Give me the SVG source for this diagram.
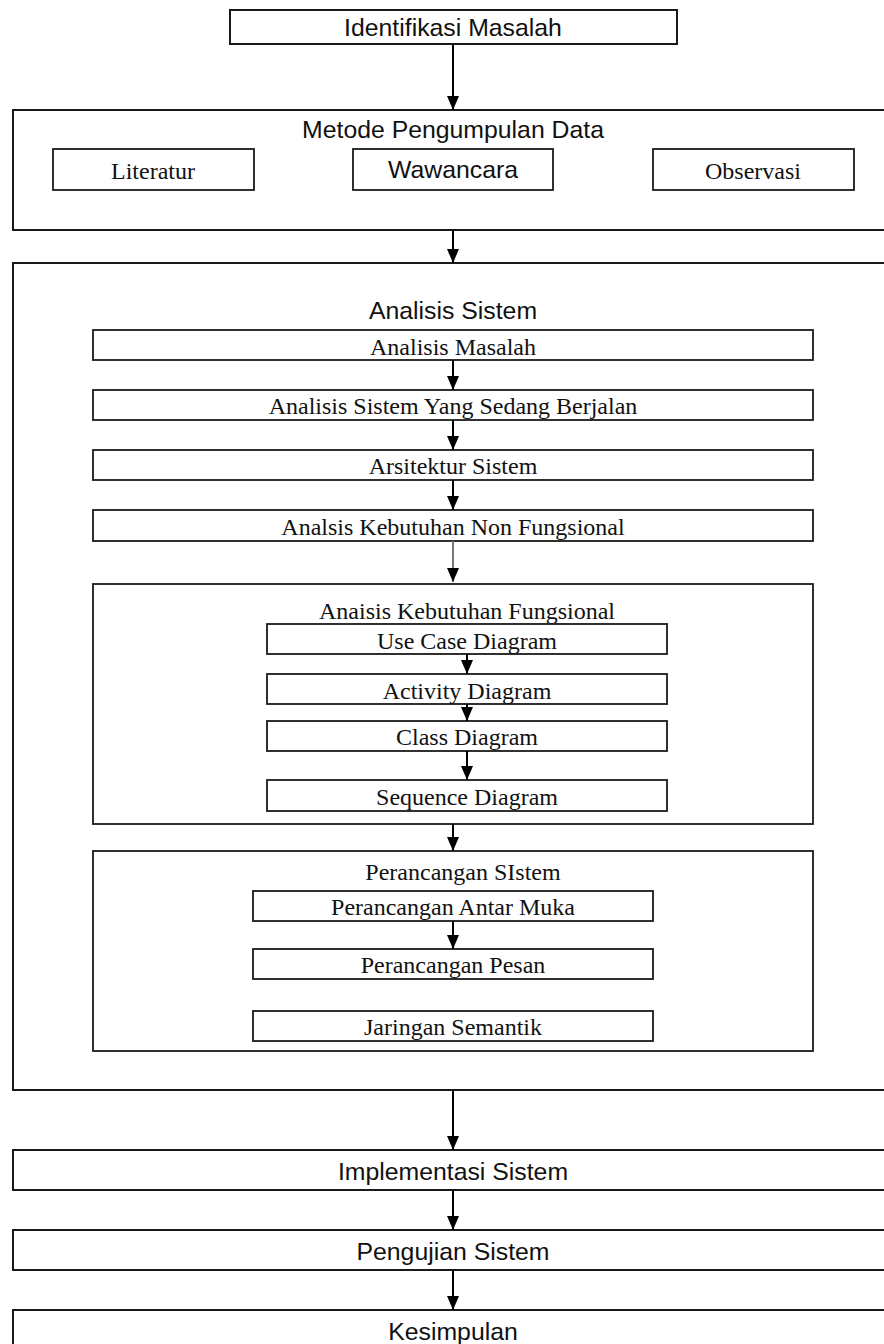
<svg xmlns="http://www.w3.org/2000/svg" width="884" height="1344" viewBox="0 0 884 1344">
<style>
.box{fill:#fff;stroke:#1a1a1a;stroke-width:2}
.ibox{fill:#fff;stroke:#1a1a1a;stroke-width:1.8}
.sans{font-family:"Liberation Sans",Arial,sans-serif;font-size:24.8px;fill:#111;text-anchor:middle}
.serif{font-family:"Liberation Serif","Times New Roman",serif;font-size:24px;fill:#111;text-anchor:middle}
.conn{stroke:#000;stroke-width:2;fill:none;marker-end:url(#ah)}
</style>
<defs>
<marker id="ah" viewBox="0 0 14 12" markerWidth="14" markerHeight="12" refX="14" refY="6" orient="auto" markerUnits="userSpaceOnUse">
<path d="M0,0 L14,6 L0,12 z" fill="#000"/>
</marker>
</defs>
<rect width="884" height="1344" fill="#fff"/>

<g id="identifikasi">
<rect class="box" x="230" y="10" width="447" height="34"/>
<text class="sans" x="453" y="36">Identifikasi Masalah</text>
</g>

<g id="metode">
<rect class="box" x="13" y="110" width="900" height="120"/>
<text class="sans" x="453" y="138">Metode Pengumpulan Data</text>
</g>
<g id="literatur">
<rect class="ibox" x="53" y="149" width="201" height="41"/>
<text class="serif" x="153" y="179">Literatur</text>
</g>
<g id="wawancara">
<rect class="ibox" x="353" y="149" width="200" height="41"/>
<text class="sans" x="453" y="178">Wawancara</text>
</g>
<g id="observasi">
<rect class="ibox" x="653" y="149" width="201" height="41"/>
<text class="serif" x="753" y="179">Observasi</text>
</g>

<g id="analisis-sistem">
<rect class="box" x="13" y="263" width="900" height="827"/>
<text class="sans" x="453" y="319">Analisis Sistem</text>
</g>
<g id="analisis-masalah">
<rect class="ibox" x="93" y="330" width="720" height="30"/>
<text class="serif" x="453" y="355">Analisis Masalah</text>
</g>
<g id="sistem-berjalan">
<rect class="ibox" x="93" y="390" width="720" height="30"/>
<text class="serif" x="453" y="414">Analisis Sistem Yang Sedang Berjalan</text>
</g>
<g id="arsitektur">
<rect class="ibox" x="93" y="450" width="720" height="30"/>
<text class="serif" x="453" y="474">Arsitektur Sistem</text>
</g>
<g id="non-fungsional">
<rect class="ibox" x="93" y="510" width="720" height="31"/>
<text class="serif" x="453" y="535">Analsis Kebutuhan Non Fungsional</text>
</g>

<g id="fungsional">
<rect class="ibox" x="93" y="584" width="720" height="240"/>
<text class="serif" x="467" y="619">Anaisis Kebutuhan Fungsional</text>
</g>
<g id="use-case">
<rect class="ibox" x="267" y="624" width="400" height="30"/>
<text class="serif" x="467" y="649">Use Case Diagram</text>
</g>
<g id="activity">
<rect class="ibox" x="267" y="674" width="400" height="30"/>
<text class="serif" x="467" y="699">Activity Diagram</text>
</g>
<g id="class">
<rect class="ibox" x="267" y="721" width="400" height="30"/>
<text class="serif" x="467" y="745">Class Diagram</text>
</g>
<g id="sequence">
<rect class="ibox" x="267" y="780" width="400" height="31"/>
<text class="serif" x="467" y="805">Sequence Diagram</text>
</g>

<g id="perancangan">
<rect class="ibox" x="93" y="851" width="720" height="200"/>
<text class="serif" x="463" y="880">Perancangan SIstem</text>
</g>
<g id="antar-muka">
<rect class="ibox" x="253" y="891" width="400" height="30"/>
<text class="serif" x="453" y="915">Perancangan Antar Muka</text>
</g>
<g id="pesan">
<rect class="ibox" x="253" y="949" width="400" height="30"/>
<text class="serif" x="453" y="973">Perancangan Pesan</text>
</g>
<g id="jaringan">
<rect class="ibox" x="253" y="1011" width="400" height="30"/>
<text class="serif" x="453" y="1035">Jaringan Semantik</text>
</g>

<g id="implementasi">
<rect class="box" x="13" y="1150" width="900" height="40"/>
<text class="sans" x="453" y="1180">Implementasi Sistem</text>
</g>
<g id="pengujian">
<rect class="box" x="13" y="1230" width="900" height="40"/>
<text class="sans" x="453" y="1260">Pengujian Sistem</text>
</g>
<g id="kesimpulan">
<rect class="box" x="13" y="1310" width="900" height="60"/>
<text class="sans" x="453" y="1340">Kesimpulan</text>
</g>

<g id="connectors">
<line class="conn" x1="453" y1="44" x2="453" y2="110"/>
<line class="conn" x1="453" y1="230" x2="453" y2="263"/>
<line class="conn" x1="453" y1="360" x2="453" y2="390"/>
<line class="conn" x1="453" y1="420" x2="453" y2="450"/>
<line class="conn" x1="453" y1="480" x2="453" y2="510"/>
<line class="conn" x1="453" y1="541" x2="453" y2="582" style="stroke:#777"/>
<line class="conn" x1="467" y1="654" x2="467" y2="674"/>
<line class="conn" x1="467" y1="704" x2="467" y2="721"/>
<line class="conn" x1="467" y1="751" x2="467" y2="780"/>
<line class="conn" x1="453" y1="824" x2="453" y2="851"/>
<line class="conn" x1="453" y1="921" x2="453" y2="949"/>
<line class="conn" x1="453" y1="1090" x2="453" y2="1150"/>
<line class="conn" x1="453" y1="1190" x2="453" y2="1230"/>
<line class="conn" x1="453" y1="1270" x2="453" y2="1310"/>
</g>
</svg>
